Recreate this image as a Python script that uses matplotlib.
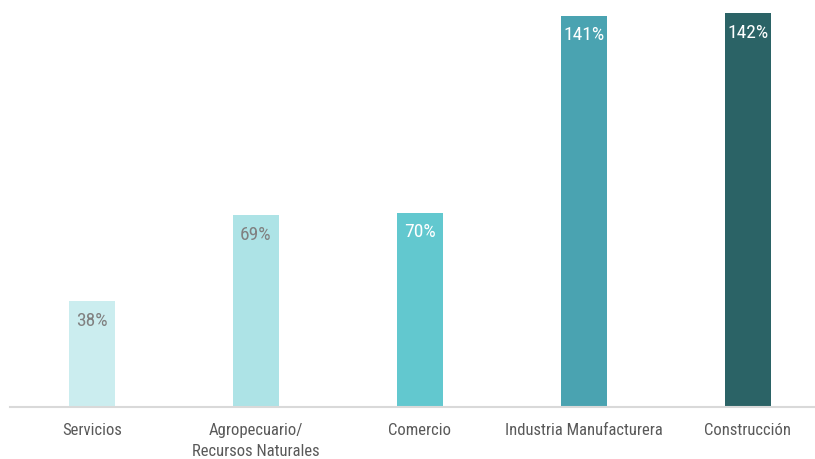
import matplotlib
matplotlib.use("Agg")
from matplotlib import pyplot as plt

categories = ["Servicios", "Agropecuario/\nRecursos Naturales", "Comercio",
              "Industria Manufacturera", "Construcción"]
values = [38, 69, 70, 141, 142]
labels = ["38%", "69%", "70%", "141%", "142%"]
colors = ["#CBEDEF", "#ADE3E6", "#62C8CF", "#4AA3B1", "#2B6366"]
labelColors = ["#808080", "#808080", "#FFFFFF", "#FFFFFF", "#FFFFFF"]

plt.rcParams["font.family"] = ["Roboto Condensed", "DejaVu Sans"]

W, H = 815, 459
fig = plt.figure(figsize=(W / 100, H / 100), dpi=100)
# axes in pixel terms: left 10, right 815, baseline at 406.5, top at 0
ax = fig.add_axes([10 / W, (H - 406.5) / H, 805 / W, 406.5 / H])
x = list(range(len(categories)))
bars = ax.bar(x, values, width=0.28, color=colors)
ax.set_xlim(-0.5, 4.41)
ax.set_ylim(0, 146.8)

for bar, txt, col in zip(bars, labels, labelColors):
    ax.annotate(txt, (bar.get_x() + bar.get_width() / 2, bar.get_height()),
                xytext=(0, -7.5), textcoords="offset points",
                ha="center", va="top", color=col, fontsize=14)

ax.set_xticks(x)
ax.set_xticklabels(categories, fontsize=12, color="#595959", linespacing=1.45)
ax.tick_params(axis="x", length=0, pad=12)
ax.set_yticks([])
for side in ["top", "right", "left"]:
    ax.spines[side].set_visible(False)
ax.spines["bottom"].set_color("#D9D9D9")
ax.spines["bottom"].set_linewidth(1.5)

fig.savefig("out.png", dpi=100)
